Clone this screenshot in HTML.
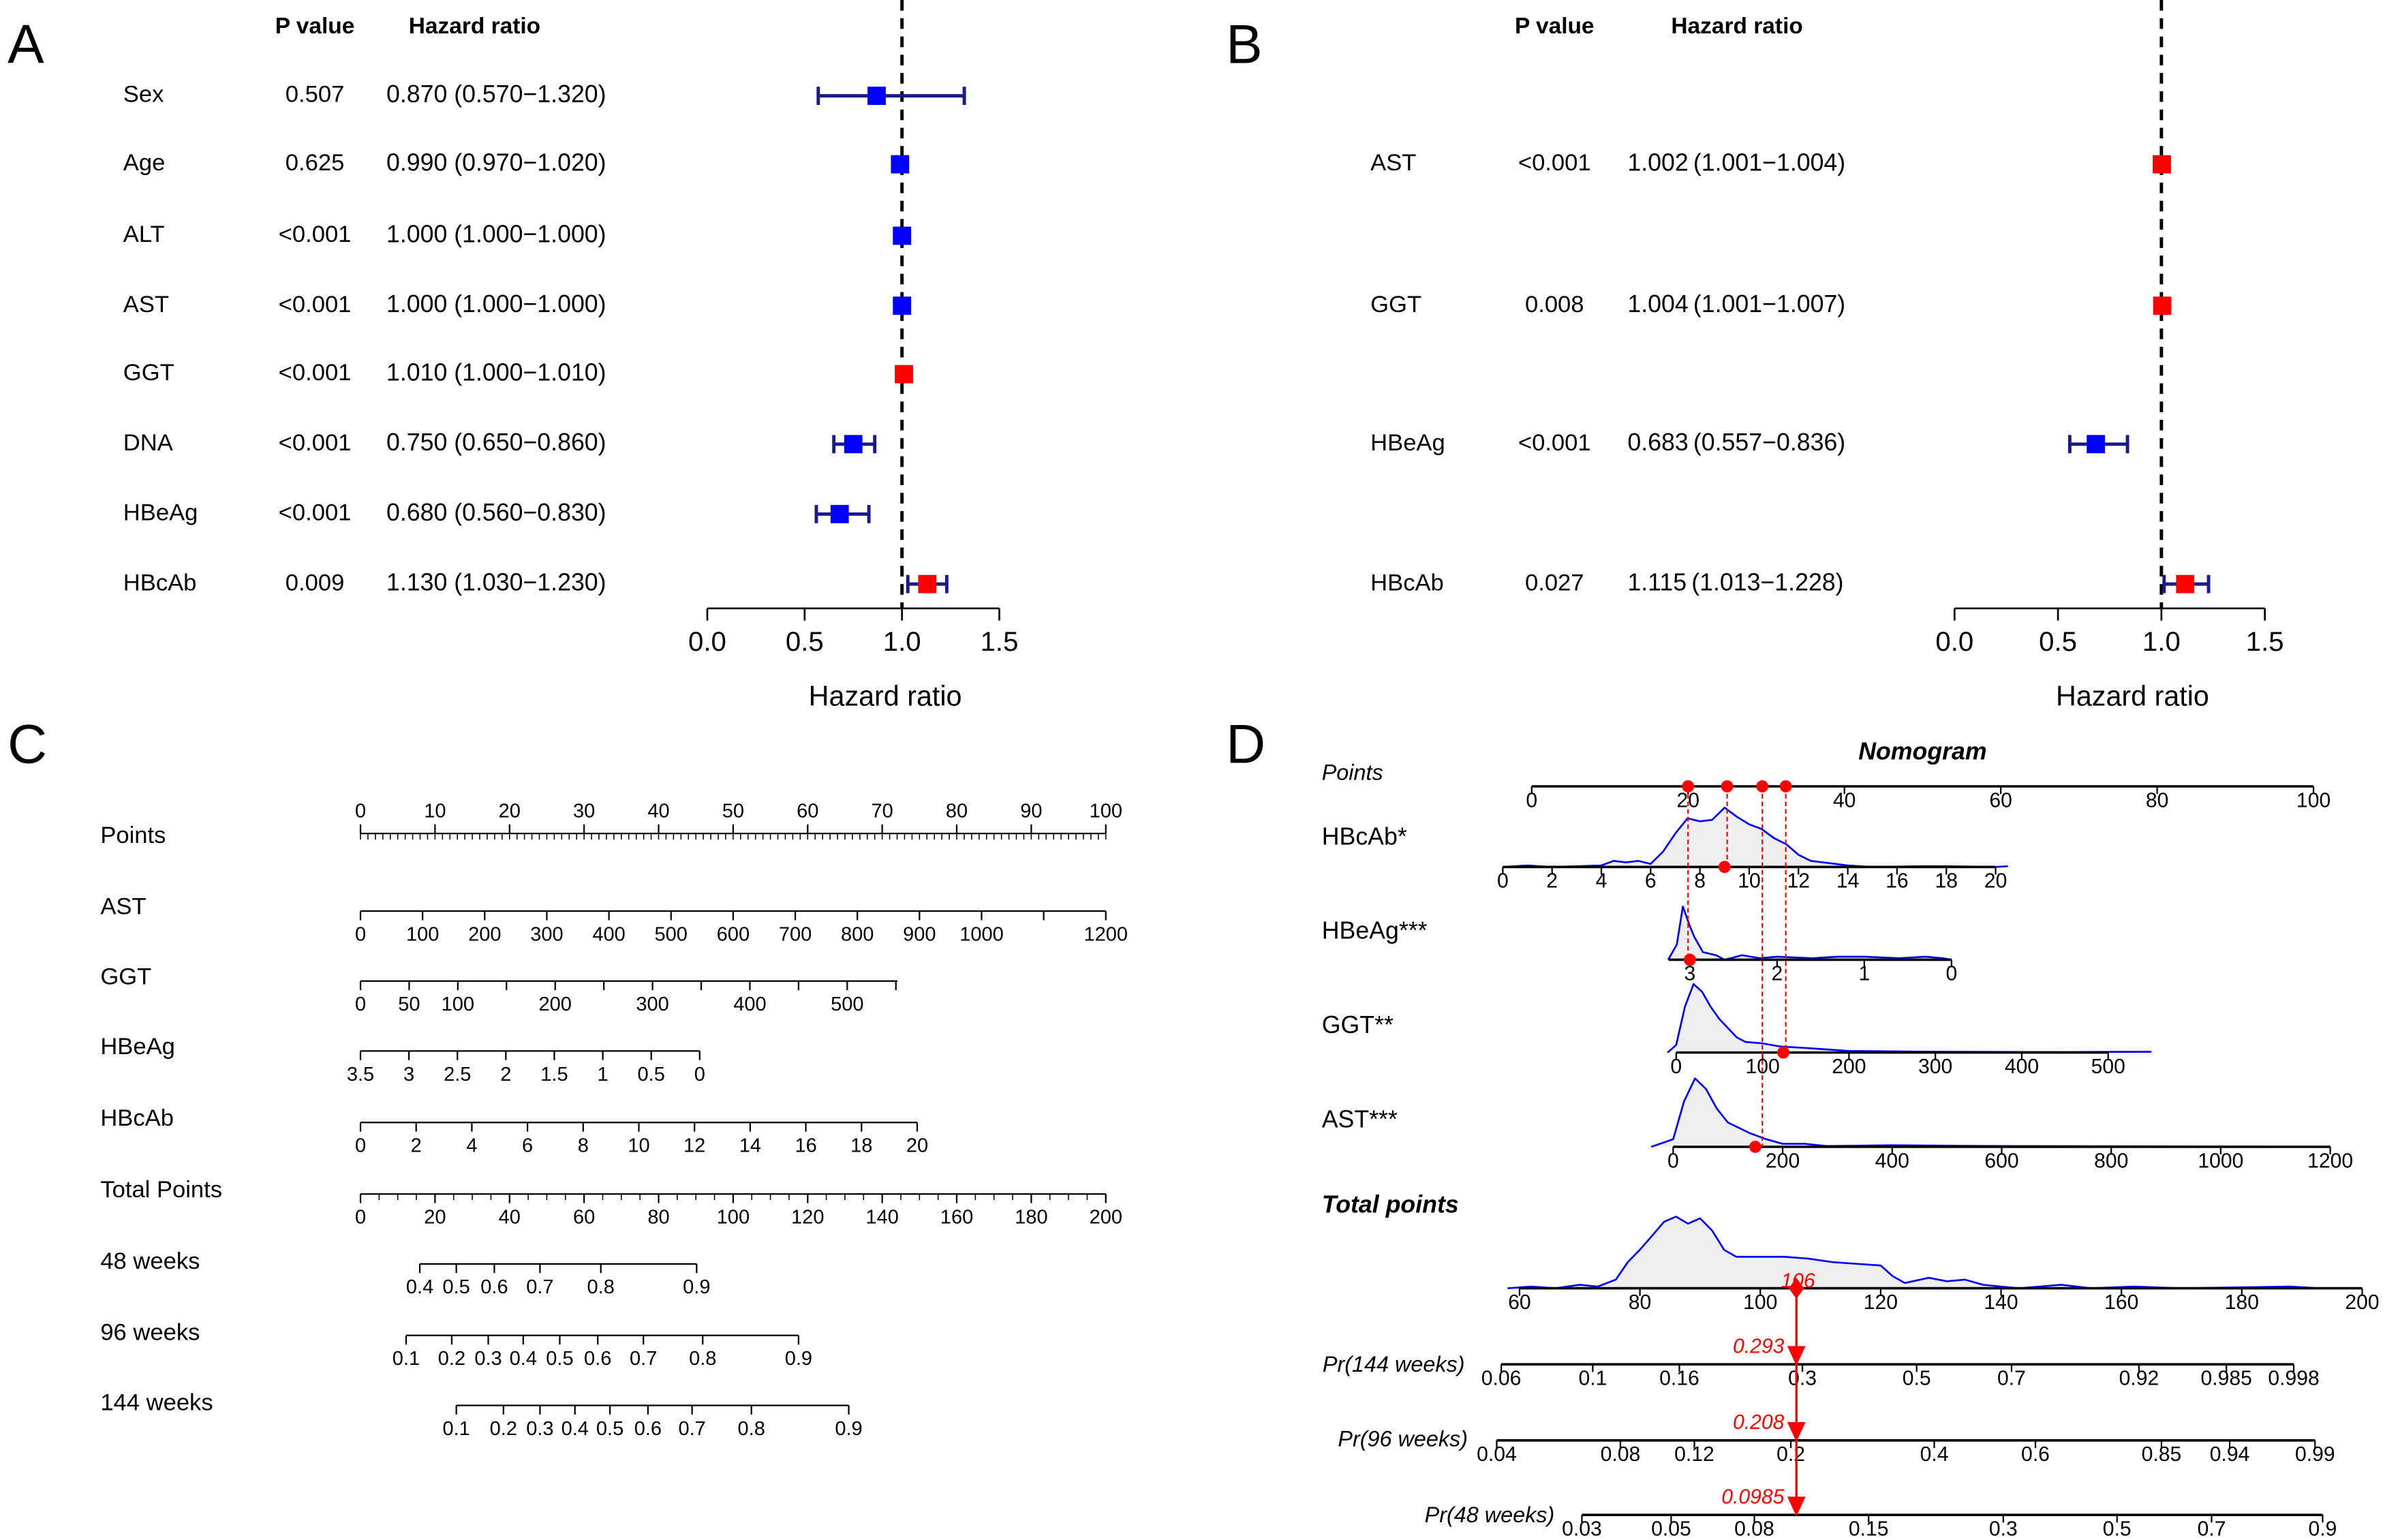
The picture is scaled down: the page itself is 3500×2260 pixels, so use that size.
<!DOCTYPE html>
<html><head><meta charset="utf-8"><style>
html,body{margin:0;padding:0;background:#fff;}
svg{display:block;font-family:"Liberation Sans",Arial,sans-serif;}
</style></head><body>
<svg id="fig" xmlns="http://www.w3.org/2000/svg" width="3500" height="2260" viewBox="0 0 1568 1012.5" preserveAspectRatio="none">
<rect width="1568" height="1012.5" fill="#fff"/>
</svg>
<script>
// ---------- Panel A data ----------
const aVars=["Sex","Age","ALT","AST","GGT","DNA","HBeAg","HBcAb"];
const aP=["0.507","0.625","<0.001","<0.001","<0.001","<0.001","<0.001","0.009"];
const aHR=[0.870,0.990,1.000,1.000,1.010,0.750,0.680,1.130];
const aLo=[0.570,0.970,1.000,1.000,1.000,0.650,0.560,1.030];
const aHi=[1.320,1.020,1.000,1.000,1.010,0.860,0.830,1.230];
// ---------- Panel B data ----------
const bVars=["AST","GGT","HBeAg","HBcAb"];
const bP=["<0.001","0.008","<0.001","0.027"];
const bHR=[1.002,1.004,0.683,1.115];
const bLo=[1.001,1.001,0.557,1.013];
const bHi=[1.004,1.007,0.836,1.228];
const forestTicks=[0.0,0.5,1.0,1.5];
// ---------- Panel D densities [value,height] ----------
const dHBcAb=[[0,0],[1,1],[2,0],[3,0.5],[4,1],[4.5,4],[5,3],[5.5,4],[6,2],[6.5,10],[7,22],[7.5,32],[8,30],[8.5,31],[9,39],[9.5,33],[10,28],[10.5,25],[11,19],[11.5,15],[12,8],[12.5,4],[13,3],[13.5,2],[14,1],[15,0],[17,0.5],[18,0.5],[20,0],[20.5,0.5]];
const dHBeAg=[[3.25,0],[3.15,10],[3.08,35],[3.0,22],[2.95,15],[2.85,5],[2.7,3],[2.6,0],[2.4,3],[2.2,1],[2.0,2],[1.6,1],[1.3,2],[1.0,2],[0.6,1],[0.3,2],[0.1,1],[0,0]];
const dGGT=[[-10,0],[0,5],[10,30],[20,45],[30,40],[40,30],[50,22],[60,16],[70,10],[80,7],[100,6],[120,4],[150,3],[200,1],[300,0.5],[450,0.3],[550,0.5]];
const dAST=[[-40,0],[0,5],[20,30],[40,45],[60,38],[80,25],[100,16],[140,9],[170,5],[200,2],[240,2],[280,0.5],[400,1],[600,0.5],[1200,0]];
const dTotal=[[58,0],[62,1],[66,0],[70,2],[73,1],[76,5],[78,15],[80,22],[82,30],[84,38],[86,41],[88,37],[90,40],[92,33],[94,22],[96,18],[100,18],[104,18],[108,17],[112,15],[116,14],[120,13],[122,7],[124,3],[128,6],[131,4],[134,5],[137,2],[140,1],[143,0],[150,2],[155,0],[162,1],[170,0],[188,1],[193,0]];
const pr144Ticks=[0.06,0.1,0.16,0.3,0.5,0.7,0.92,0.985,0.998];
const pr96Ticks=[0.04,0.08,0.12,0.2,0.4,0.6,0.85,0.94,0.99];
const pr48Ticks=[0.03,0.05,0.08,0.15,0.3,0.5,0.7,0.9];
const selPoints=[20,25,29.5,32.5];
const totalSel=106;
const prSel=["0.293","0.208","0.0985"];

const NS="http://www.w3.org/2000/svg";
const svg=document.getElementById('fig');
function el(tag,attrs,parent){const e=document.createElementNS(NS,tag);for(const k in attrs)e.setAttribute(k,attrs[k]);(parent||svg).appendChild(e);return e;}
function txt(s,x,y,size,opts,parent){opts=opts||{};const t=el('text',{x:x,y:y,'font-size':size,'text-anchor':opts.anchor||'start',fill:opts.fill||'#000','font-style':opts.italic?'italic':'normal','font-weight':opts.bold?'bold':'normal','dominant-baseline':'middle'},parent);t.textContent=s;return t;}
function line(x1,y1,x2,y2,st,w,parent,dash){const a={x1:x1,y1:y1,x2:x2,y2:y2,stroke:st||'#000','stroke-width':w||1};if(dash)a['stroke-dasharray']=dash;return el('line',a,parent);}

[["A",5,32],["B",806,32],["C",5,492],["D",806,492]].forEach(p=>{
 const t=txt(p[0],p[1],p[2],36,{});
 
 
});

function forest(g,vars,ps,hr,lo,hi,rows,cfg){
 const xs=v=>cfg.x0+(v)*(cfg.x15-cfg.x0)/1.5;
 let h=txt("P value",cfg.pX,18,15,{anchor:'middle',bold:true},g);
 
 
 h=txt("Hazard ratio",cfg.hX,18,15,{anchor:'middle',bold:true},g);
 
 
 const ref=line(xs(1),0,xs(1),cfg.axY,'#000',2.2,g,'7,5');
 
 
 vars.forEach((v,i)=>{
  const y=rows[i];
  let t=txt(v,cfg.vX,y,15.5,{},g);
  
  
  t=txt(ps[i],cfg.pX,y,15.5,{anchor:'middle'},g);
  
  
  t=txt(hr[i].toFixed(3)+(cfg.sp?" (":"\u2009(")+lo[i].toFixed(3)+"\u2212"+hi[i].toFixed(3)+")",cfg.hrX,y,16,{},g);
  
  
  const col=hr[i]>1?'#ff0000':'#0000ff';
  const cic='#1a1a8c';
  if(xs(hi[i])-xs(lo[i])>3){
   const c=line(xs(lo[i]),y,xs(hi[i]),y,cic,2.2,g);
   
   
   [lo[i],hi[i]].forEach(v=>{const cap=line(xs(v),y-6,xs(v),y+6,cic,2.2,g);
    
    });
  }
  const r=el('rect',{x:xs(hr[i])-6,y:y-6,width:12,height:12,fill:col},g);
  
  
 });
 const ax=line(xs(0),cfg.axY,xs(1.5),cfg.axY,'#000',1.2,g);
 
 
 forestTicks.forEach(v=>{line(xs(v),cfg.axY,xs(v),cfg.axY+8,'#000',1.2,g);
  const t=txt(v.toFixed(1),xs(v),cfg.axY+23,18,{anchor:'middle'},g);
  
  });
 const xt=txt("Hazard ratio",cfg.tX,cfg.axY+59,18.5,{anchor:'middle'},g);
 
 
}
const gA=el('g',{});


forest(gA,aVars,aP,aHR,aLo,aHi,[63,108,155,201,246,292,338,384],{x0:465,x15:657,axY:400,vX:81,pX:207,hX:312,hrX:254,sp:true,tX:582});
const gB=el('g',{});


forest(gB,bVars,bP,bHR,bLo,bHi,[108,201,292,384],{x0:1285,x15:1489,axY:400,vX:901,pX:1022,hX:1142,hrX:1070,sp:false,tX:1402});

// ---------- Panel C ----------
const gC=el('g',{});


function nomAxis(g,name,labelY,lineY,x0,x1,ticks,labelsAbove){
 let t=txt(name,66,labelY,15.5,{},g);
 
 
 const l=line(x0,lineY,x1,lineY,'#000',1,g);
 
 
 ticks.forEach(tk=>{
  line(tk[1],lineY,tk[1],lineY+(labelsAbove?-6:6),'#000',1,g);
  if(tk[0]!==""){const tt=txt(tk[0],tk[1],labelsAbove?lineY-14:lineY+16,13,{anchor:'middle'},g);
   
   }
 });
}
const lin=(v,a,b,va,vb)=>a+(v-va)*(b-a)/(vb-va);
const pointsVals=[0,10,20,30,40,50,60,70,80,90,100];
nomAxis(gC,"Points",550,548,237,727,pointsVals.map(v=>[String(v),lin(v,237,727,0,100)]),true);
for(let i=0;i<=100;i++){const x=lin(i,237,727,0,100);line(x,548,x,552,'#000',0.7,gC);}
const astVals=[0,100,200,300,400,500,600,700,800,900,1000,1100,1200];
nomAxis(gC,"AST",597,599,237,727,astVals.map(v=>[v===1100?"":String(v),lin(v,237,727,0,1200)]),false);
const ggtVals=[0,50,100,150,200,250,300,350,400,450,500,550];
nomAxis(gC,"GGT",643,645,237,590,ggtVals.map(v=>[[150,250,350,450,550].includes(v)?"":String(v),lin(v,237,557,0,500)]),false);
const hbeVals=[3.5,3,2.5,2,1.5,1,0.5,0];
nomAxis(gC,"HBeAg",689,691,237,460,hbeVals.map(v=>[String(v),lin(v,237,460,3.5,0)]),false);
const hbcVals=[0,2,4,6,8,10,12,14,16,18,20];
nomAxis(gC,"HBcAb",736,738,237,603,hbcVals.map(v=>[String(v),lin(v,237,603,0,20)]),false);
const totVals=[0,20,40,60,80,100,120,140,160,180,200];
nomAxis(gC,"Total Points",783,785,237,727,totVals.map(v=>[String(v),lin(v,237,727,0,200)]),false);
for(let i=0;i<=200;i+=5){const x=lin(i,237,727,0,200);line(x,785,x,789,'#000',0.7,gC);}
const w48=[["0.4",276],["0.5",300],["0.6",325],["0.7",355],["0.8",395],["0.9",458]];
nomAxis(gC,"48 weeks",830,831,276,458,w48,false);
const w96=[["0.1",267],["0.2",297],["0.3",321],["0.4",344],["0.5",368],["0.6",393],["0.7",423],["0.8",462],["0.9",525]];
nomAxis(gC,"96 weeks",877,878,267,525,w96,false);
const w144=[["0.1",300],["0.2",331],["0.3",355],["0.4",378],["0.5",401],["0.6",426],["0.7",455],["0.8",494],["0.9",558]];
nomAxis(gC,"144 weeks",923,924,300,558,w144,false);

// ---------- Panel D ----------
const gD=el('g',{});


let tt=txt("Nomogram",1264,495,16,{anchor:'middle',bold:true,italic:true},gD);


function dAxis(name,labelY,opts,axY,x0,x1,fromPx,ticks){
 if(name){const t=txt(name,opts.lx,labelY,opts.size||15,{italic:opts.italic,bold:opts.bold,anchor:opts.anchor||'start'},gD);
  
  }
 const l=line(x0,axY,x1,axY,'#000',1.6,gD);
 
 
 ticks.forEach(v=>{const x=fromPx(v);line(x,axY,x,axY+5,'#000',1,gD);
  const t=txt(String(v),x,axY+10,13.5,{anchor:'middle'},gD);
  
  });
}
function density(data,sx,axY,scale,name){
 let d="M"+sx(data[0][0])+","+axY;
 data.forEach(p=>{d+=" L"+sx(p[0]).toFixed(1)+","+(axY-p[1]*scale).toFixed(1);});
 d+=" L"+sx(data[data.length-1][0])+","+axY+" Z";
 const f=el('path',{d:d,fill:'#eeeeee',stroke:'none'},gD);
 
 
 let d2="M"+data.map(p=>sx(p[0]).toFixed(1)+","+(axY-p[1]*scale).toFixed(1)).join(" L");
 const ln=el('path',{d:d2,fill:'none',stroke:'#0000ff','stroke-width':1.2,'stroke-linejoin':'round'},gD);
 
 
}
const sPts=v=>lin(v,1007,1521,0,100);
const sHBc=v=>lin(v,988,1312,0,20);
const sHBe=v=>lin(v,1111,1283,3,0);
const sGGT=v=>lin(v,1102,1386,0,500);
const sAST=v=>lin(v,1100,1532,0,1200);
const sTot=v=>lin(v,999,1553,60,200);
density(dHBcAb,sHBc,570,1,'hbcab');
density(dHBeAg,sHBe,631,1,'hbeag');
density(dGGT,sGGT,692,1,'ggt');
density(dAST,sAST,754,1,'ast');
density(dTotal,sTot,847,1.15,'total-points');
dAxis("Points",509,{lx:869,italic:true,size:14.5},517,1007,1521,sPts,[0,20,40,60,80,100]);
dAxis("HBcAb*",551,{lx:869,size:16},570,988,1312,sHBc,[0,2,4,6,8,10,12,14,16,18,20]);
dAxis("HBeAg***",613,{lx:869,size:16},631,1097,1283,sHBe,[3,2,1,0]);
dAxis("GGT**",675,{lx:869,size:16},692,1102,1386,sGGT,[0,100,200,300,400,500]);
dAxis("AST***",737,{lx:869,size:16},754,1100,1532,sAST,[0,200,400,600,800,1000,1200]);
dAxis("Total points",793,{lx:869,italic:true,bold:true,size:16},847,999,1553,sTot,[60,80,100,120,140,160,180,200]);
const cll=p=>Math.log(-Math.log(1-p));
const mkPr=(p0,p1,x0,x1)=>v=>lin(cll(v),x0,x1,cll(p0),cll(p1));
const s144=mkPr(0.06,0.998,987,1508),s96=mkPr(0.04,0.99,984,1522),s48=mkPr(0.03,0.9,1040,1527);
dAxis("Pr(144 weeks)",898,{lx:963,italic:true,anchor:'end',size:14.5},897,987,1508,s144,pr144Ticks);
dAxis("Pr(96 weeks)",947,{lx:965,italic:true,anchor:'end',size:14.5},947,984,1522,s96,pr96Ticks);
dAxis("Pr(48 weeks)",997,{lx:1022,italic:true,anchor:'end',size:14.5},996,1040,1527,s48,pr48Ticks);

const targets=[[sHBe(3),631],[sHBc(9),570],[sAST(150),754],[sGGT(124),692]];
selPoints.forEach((p,i)=>{
 const x=sPts(p);
 const dl=line(x,517,x,targets[i][1],'#ff0000',1,gD,'3,2');
 
 
 let c=el('circle',{cx:x,cy:517,r:4,fill:'#ff0000'},gD);
 
 
 c=el('circle',{cx:targets[i][0],cy:targets[i][1],r:4,fill:'#ff0000'},gD);
 
 
});
const xs=sTot(totalSel);
const rl=line(xs,847,xs,992,'#ff0000',1.5,gD);


const dia=el('path',{d:`M${xs},${840} L${xs+5},${847} L${xs},${854} L${xs-5},${847} Z`,fill:'#ff0000'},gD);


tt=txt(String(totalSel),xs+1,843,13.5,{anchor:'middle',italic:true,fill:'#ff0000'},gD);


[897,947,996].forEach((y,i)=>{
 const tr=el('path',{d:`M${xs-6},${y-12} L${xs+6},${y-12} L${xs},${y+1} Z`,fill:'#ff0000'},gD);
 
 
 const t=txt(prSel[i],xs-8,y-11,13.5,{anchor:'end',italic:true,fill:'#ff0000'},gD);
 
 
});
</script>
</body></html>
